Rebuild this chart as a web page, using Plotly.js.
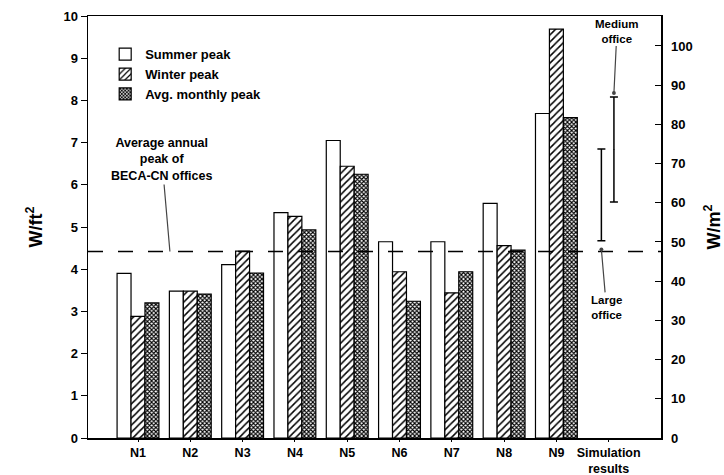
<!DOCTYPE html>
<html>
<head>
<meta charset="utf-8">
<script src="https://cdn.plot.ly/plotly-3.0.1.min.js"></script>
<style>html,body{margin:0;padding:0;background:#fff;}#chart{width:724px;height:475px;}</style>
</head>
<body>
<div id="chart"></div>
<script>
// ---- data ----
const categories = ["N1","N2","N3","N4","N5","N6","N7","N8","N9","Simulation<br>results"];
const buildingIdx = [0,1,2,3,4,5,6,7,8];
const summerPeak  = [3.90, 3.48, 4.11, 5.34, 7.05, 4.65, 4.65, 5.56, 7.69];
const winterPeak  = [2.88, 3.48, 4.43, 5.25, 6.44, 3.94, 3.44, 4.56, 9.69];
const avgMonthlyPeak = [3.20, 3.41, 3.91, 4.93, 6.25, 3.24, 3.94, 4.45, 7.59];
const avgAnnualPeakBECA = 4.42;            // W/ft2
const simNames = ["Large office","Medium office"];
const simX = [8.86, 9.10];                 // inside "Simulation results" slot
const simLow  = [50.3, 60.2];              // W/m2
const simHigh = [73.7, 87.0];              // W/m2
const ft2ToM2 = 10.764;

const FONT = "Liberation Sans, Arial, Helvetica, sans-serif";
const simMid = simLow.map((l,i)=>(l+simHigh[i])/2);

const traces = [
  {type:"bar", name:"Summer peak", x:buildingIdx, y:summerPeak,
   marker:{color:"#fff", line:{color:"#000", width:1.2}}},
  {type:"bar", name:"Winter peak", x:buildingIdx, y:winterPeak,
   marker:{color:"#fff", line:{color:"#000", width:1.2},
     pattern:{shape:"/", size:5, solidity:0.3, fgcolor:"#000", bgcolor:"#fff"}}},
  {type:"bar", name:"Avg. monthly peak", x:buildingIdx, y:avgMonthlyPeak,
   marker:{color:"#fff", line:{color:"#000", width:1.2},
     pattern:{shape:"x", size:3, solidity:0.6, fgcolor:"#000", bgcolor:"#fff"}}},
  {type:"scatter", mode:"markers", x:simX, y:simMid, yaxis:"y2", showlegend:false,
   marker:{size:1, color:"#000"}, hoverinfo:"skip",
   error_y:{type:"data", symmetric:false,
     array: simHigh.map((h,i)=>h-simMid[i]),
     arrayminus: simLow.map((l,i)=>simMid[i]-l),
     color:"#000", thickness:1.5, width:4}}
];

const layout = {
  width:724, height:475,
  margin:{l:88, r:63, t:16, b:37},
  paper_bgcolor:"#fff", plot_bgcolor:"#fff",
  font:{family:FONT, size:13, color:"#000", weight:"bold"},
  barmode:"group", bargap:0.2, bargroupgap:0,
  showlegend:true,
  legend:{x:0.03, y:0.945, xanchor:"left", yanchor:"top", bgcolor:"rgba(0,0,0,0)",
    font:{family:FONT, size:13, color:"#000", weight:"bold"}, tracegroupgap:0},
  xaxis:{type:"linear", range:[-0.956, 10.0], tickvals:[0,1,2,3,4,5,6,7,8,9],
    ticktext:categories, showgrid:false, zeroline:false,
    showline:true, mirror:true, linecolor:"#000", linewidth:1.5,
    ticks:"outside", ticklen:2, tickcolor:"#000",
    tickfont:{family:FONT, size:12.5, weight:"bold"}},
  yaxis:{range:[0,10], dtick:1, showgrid:false, zeroline:false,
    showline:true, linecolor:"#000", linewidth:1.5,
    ticks:"outside", ticklen:6, tickcolor:"#000",
    tickfont:{family:FONT, size:13, weight:"bold"},
    title:{text:"W/ft<sup>2</sup>", font:{family:FONT, size:18, weight:"bold"}, standoff:16}},
  yaxis2:{overlaying:"y", side:"right", range:[0, 10*ft2ToM2],
    tickvals:[0,10,20,30,40,50,60,70,80,90,100],
    showgrid:false, zeroline:false, showline:true, linecolor:"#000", linewidth:1.5,
    ticks:"inside", ticklen:6, tickcolor:"#000", ticklabelstandoff:6,
    tickfont:{family:FONT, size:13, weight:"bold"},
    title:{text:"W/m<sup>2</sup>", font:{family:FONT, size:18, weight:"bold"}, standoff:15}},
  shapes:[{type:"line", xref:"paper", x0:0, x1:1, yref:"y", y0:avgAnnualPeakBECA, y1:avgAnnualPeakBECA,
    line:{color:"#000", width:1.5, dash:"longdash"}}],
  annotations:[
    {xref:"x", yref:"y", x:0.61, y:avgAnnualPeakBECA, ax:-8, ay:-92,
     text:"Average annual<br>peak of<br>BECA-CN offices", showarrow:true, arrowhead:0, arrowwidth:1.2,
     font:{family:FONT, size:12.5, weight:"bold"}},
    {xref:"x", yref:"y", x:simX[0], y:avgAnnualPeakBECA+0.05, ax:5, ay:58,
     text:"Large<br>office", showarrow:true, arrowhead:6, arrowsize:0.8, arrowwidth:1.2,
     font:{family:FONT, size:11.5, weight:"bold"}},
    {xref:"x", yref:"y2", x:simX[1], y:simHigh[1]+1, ax:3, ay:-62,
     text:"Medium<br>office", showarrow:true, arrowhead:6, arrowsize:0.8, arrowwidth:1.2,
     font:{family:FONT, size:11.5, weight:"bold"}}
  ]
};

Plotly.newPlot("chart", traces, layout, {displayModeBar:false, staticPlot:true});
</script>
</body>
</html>
